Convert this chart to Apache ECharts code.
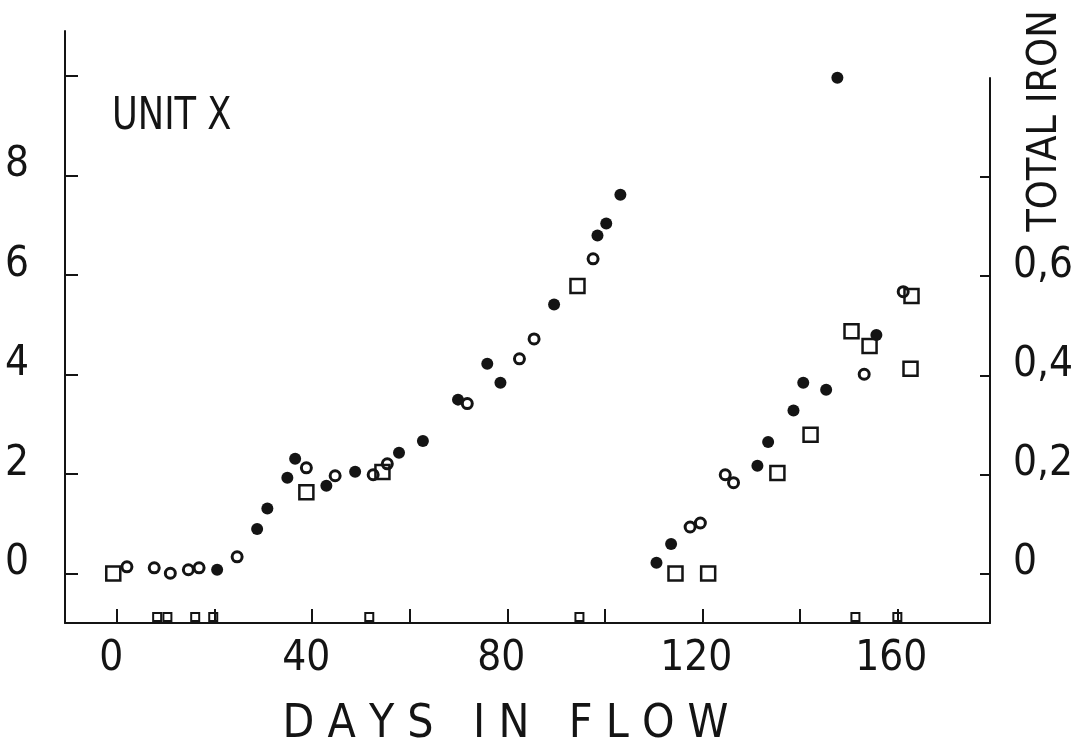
<!DOCTYPE html>
<html>
<head>
<meta charset="utf-8">
<script src="https://cdn.jsdelivr.net/npm/echarts@6/dist/echarts.min.js"></script>
<style>
html,body{margin:0;padding:0;background:#fff;}
#chart{width:1078px;height:747px;}
</style>
</head>
<body>
<div id="chart"></div>
<script>
// ---- data (days in flow, value) ----
var filledDays = [20.5, 28.7, 30.8, 34.9, 36.5, 42.9, 48.8, 57.8, 62.7, 69.9, 75.9, 78.6, 89.6, 98.5, 100.3, 103.2, 110.6, 113.6, 131.3, 133.5, 138.7, 140.7, 145.4, 147.7, 155.7];
var filledVals = [0.07, 0.89, 1.30, 1.92, 2.30, 1.76, 2.04, 2.42, 2.66, 3.49, 4.21, 3.83, 5.40, 6.79, 7.03, 7.61, 0.21, 0.59, 2.16, 2.64, 3.27, 3.83, 3.69, 9.96, 4.79];

var openDays = [2.0, 7.6, 10.9, 14.6, 16.8, 24.6, 38.8, 44.7, 52.5, 55.4, 71.8, 82.5, 85.5, 97.6, 117.5, 119.6, 124.7, 126.4, 153.2, 161.2];
var openVals = [0.13, 0.11, 0.00, 0.07, 0.11, 0.33, 2.12, 1.96, 1.98, 2.20, 3.41, 4.31, 4.71, 6.32, 0.93, 1.01, 1.98, 1.82, 4.00, 5.66];

// total iron (right axis)
var ironDays = [-0.8, 38.8, 54.4, 94.4, 114.5, 121.2, 135.4, 142.2, 150.6, 154.3, 162.7, 162.9];
var ironVals = [0.00, 0.164, 0.205, 0.58, 0.00, 0.00, 0.203, 0.28, 0.489, 0.459, 0.413, 0.56];

// total iron marks sitting on the day axis
var ironAxisDays = [8.2, 10.3, 16.0, 19.7, 51.7, 94.8, 151.4, 160.0];
var ironAxisVals = [-0.088, -0.088, -0.088, -0.088, -0.088, -0.088, -0.088, -0.088];

// ticks and labels
var dayTicks = [0, 20, 40, 60, 80, 100, 120, 140, 160];
var dayLabels = [0, 40, 80, 120, 160];
var leftTicks = [0, 2, 4, 6, 8, 10];
var leftLabels = [0, 2, 4, 6, 8];
var ironTicks = [0, 0.2, 0.4, 0.6, 0.8];
var ironLabels = [0, 0.2, 0.4, 0.6];

function pairs(xs, ys){ return xs.map(function(x,i){ return [x, ys[i]]; }); }

var FONT = "'DejaVu Sans Condensed', 'Liberation Sans Narrow', 'DejaVu Sans', sans-serif";
var INK = '#141414';

var chart = echarts.init(document.getElementById('chart'));
chart.setOption({
  backgroundColor: '#ffffff',
  animation: false,
  grid: [
    {left: 65, right: 88, top: 31, height: 592, outerBoundsMode: 'none'},
    {left: 65, right: 88, top: 78, height: 545, outerBoundsMode: 'none'}
  ],
  xAxis: [
    {
      gridIndex: 0, type: 'value', min: -10.7, max: 179,
      name: 'D A Y S   I N   F L O W', nameLocation: 'middle', nameGap: 79,
      nameTextStyle: {fontFamily: FONT, fontSize: 46, color: INK, padding: [0, 44, 0, 0]},
      axisLine: {show: true, onZero: false, lineStyle: {color: INK, width: 2}},
      axisTick: {show: true, inside: true, length: 14, customValues: dayTicks, lineStyle: {color: INK, width: 2}},
      axisLabel: {customValues: dayLabels, fontFamily: FONT, fontSize: 42, color: INK, margin: 15, padding: [0, 12, 0, 0]},
      splitLine: {show: false}
    },
    {
      gridIndex: 1, type: 'value', min: -10.7, max: 179, show: false,
      axisLine: {onZero: false},
      splitLine: {show: false}
    }
  ],
  yAxis: [
    {
      gridIndex: 0, type: 'value', min: -1, max: 10.9, position: 'left',
      axisLine: {show: true, onZero: false, lineStyle: {color: INK, width: 2}},
      axisTick: {show: true, inside: true, length: 13, customValues: leftTicks, lineStyle: {color: INK, width: 2}},
      axisLabel: {customValues: leftLabels, fontFamily: FONT, fontSize: 42, color: INK, margin: 36,
        verticalAlign: 'bottom', lineHeight: 20},
      splitLine: {show: false}
    },
    {
      gridIndex: 1, type: 'value', min: -0.1, max: 1.0, position: 'right',
      axisLine: {show: true, onZero: false, lineStyle: {color: INK, width: 2}},
      axisTick: {show: true, inside: true, length: 10, customValues: ironTicks, lineStyle: {color: INK, width: 2}},
      axisLabel: {customValues: ironLabels, fontFamily: FONT, fontSize: 42, color: INK, margin: 23,
        verticalAlign: 'bottom', lineHeight: 21,
        formatter: function(v){ return v === 0 ? '0' : String(Math.round(v*10)/10).replace('.', ','); }},
      splitLine: {show: false}
    }
  ],
  graphic: [
    {type: 'text', x: 112, y: 96, scaleX: 0.89,
     style: {text: 'UNIT X', font: "44px " + FONT, fill: INK, align: 'left', verticalAlign: 'top'}},
    {type: 'text', x: 1045, y: 121, rotation: Math.PI/2,
     style: {text: 'TOTAL IRON', font: "41px " + FONT, fill: INK, align: 'center', verticalAlign: 'middle'}}
  ],
  series: [
    {
      name: 'filled', type: 'scatter', xAxisIndex: 0, yAxisIndex: 0,
      data: pairs(filledDays, filledVals), symbol: 'circle', symbolSize: 12,
      itemStyle: {color: INK, opacity: 1}
    },
    {
      name: 'open', type: 'scatter', xAxisIndex: 0, yAxisIndex: 0,
      data: pairs(openDays, openVals), symbol: 'circle', symbolSize: 10,
      itemStyle: {color: '#ffffff', borderColor: INK, borderWidth: 3, opacity: 1}
    },
    {
      name: 'total iron', type: 'scatter', xAxisIndex: 1, yAxisIndex: 1,
      data: pairs(ironDays, ironVals), symbol: 'rect', symbolSize: 14,
      itemStyle: {color: 'rgba(255,255,255,0)', borderColor: INK, borderWidth: 2.5, opacity: 1}
    },
    {
      name: 'total iron (axis)', type: 'scatter', xAxisIndex: 1, yAxisIndex: 1,
      data: pairs(ironAxisDays, ironAxisVals), symbol: 'rect', symbolSize: 8,
      itemStyle: {color: 'rgba(255,255,255,0)', borderColor: INK, borderWidth: 2, opacity: 1}
    }
  ]
});
</script>
</body>
</html>
